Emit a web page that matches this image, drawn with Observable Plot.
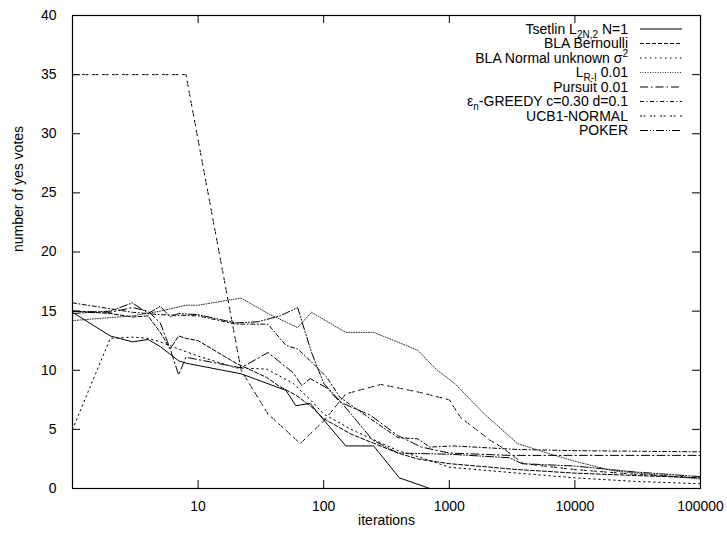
<!DOCTYPE html>
<html>
<head>
<meta charset="utf-8">
<script src="https://cdn.jsdelivr.net/npm/d3@7"></script>
<script src="https://cdn.jsdelivr.net/npm/@observablehq/plot@0.6"></script>
<style>
  body { margin: 0; background: #fff; }
  #chart svg { display: block; }
</style>
</head>
<body>
<div id="chart"></div>
<script>
// Axis ticks
const xTicks = [10, 100, 1000, 10000, 100000];
const yTicks = [0, 5, 10, 15, 20, 25, 30, 35, 40];

// Tsetlin L(2N,2), N=1
const tsetlinIter  = [1, 2, 3, 4, 5, 7, 8, 10, 22, 50, 60, 78, 100, 150, 250, 400, 700, 100000];
const tsetlinVotes = [14.9, 12.9, 12.4, 12.6, 12.0, 10.8, 10.6, 10.4, 9.7, 8.3, 7.0, 7.2, 5.8, 3.6, 3.6, 0.9, 0, 0];

// BLA Bernoulli
const blaBernIter  = [1, 2, 3, 4, 5, 6, 7, 8, 10, 20, 35, 45, 60, 80, 100, 165, 390, 560, 1000, 3500, 10000, 30000, 100000];
const blaBernVotes = [15.0, 14.8, 14.5, 14.6, 13.2, 11.8, 12.9, 12.7, 12.5, 10.6, 9.4, 8.6, 7.9, 6.9, 5.9, 4.6, 3.0, 2.5, 2.1, 1.6, 1.3, 1.1, 0.9];

// BLA Normal, unknown variance
const blaNormIter  = [1, 2, 3, 4, 5, 7, 10, 20, 35, 57, 80, 100, 165, 390, 560, 1000, 3500, 10000, 30000, 100000];
const blaNormVotes = [5.0, 12.7, 12.8, 12.7, 12.4, 11.8, 11.2, 10.2, 10.1, 8.9, 7.4, 6.3, 5.0, 3.2, 2.7, 1.8, 1.3, 0.9, 0.6, 0.4];

// L(R-I), 0.01
const lriIter  = [1, 3, 5, 8, 10, 22, 36, 62, 80, 150, 250, 560, 800, 1100, 1900, 3500, 6000, 10000, 20000, 100000];
const lriVotes = [14.2, 14.6, 15.0, 15.5, 15.5, 16.1, 14.8, 13.6, 14.9, 13.2, 13.2, 11.7, 10.0, 8.9, 6.3, 3.8, 3.0, 2.3, 1.5, 0.8];

// Pursuit, 0.01
const pursuitIter  = [1, 2, 3, 4, 5, 6, 7, 8, 10, 22, 36, 57, 67, 78, 106, 135, 235, 386, 600, 1000, 3000, 100000];
const pursuitVotes = [15.0, 14.9, 15.3, 15.0, 14.0, 11.8, 9.6, 11.1, 10.9, 10.2, 11.5, 9.8, 8.7, 9.3, 8.5, 7.3, 6.2, 4.5, 3.5, 3.0, 2.8, 2.8];

// eps_n-GREEDY, c=0.30, d=0.1
const greedyIter  = [1, 2, 3, 5, 10, 20, 36, 50, 62, 80, 106, 135, 235, 390, 560, 700, 1080, 3500, 10000, 100000];
const greedyVotes = [15.7, 15.2, 14.9, 14.7, 14.6, 13.9, 13.9, 12.1, 11.8, 10.7, 9.4, 7.7, 5.9, 4.3, 4.2, 3.5, 3.6, 3.3, 3.2, 3.1];

// UCB1-NORMAL
const ucbIter  = [1, 8, 22, 36, 58, 65, 100, 150, 285, 600, 1000, 1230, 2100, 2600, 3900, 10000, 30000, 100000];
const ucbVotes = [35, 35, 10.0, 6.3, 4.3, 3.8, 5.7, 8.0, 8.8, 8.1, 7.5, 6.0, 4.1, 3.5, 2.1, 1.6, 1.2, 0.9];

// POKER
const pokerIter  = [1, 2, 3, 4, 5, 6, 7, 10, 20, 30, 45, 62, 80, 100, 140, 245, 390, 1000, 3000, 3800, 10000, 30000, 100000];
const pokerVotes = [14.8, 15.0, 15.7, 14.8, 15.4, 14.5, 14.8, 14.7, 14.0, 14.1, 14.6, 15.3, 11.5, 8.9, 7.2, 4.1, 3.0, 2.9, 2.6, 2.1, 1.9, 1.4, 1.0];

// Series, in legend order, with their line styles
const series = [
  {iter: tsetlinIter, votes: tsetlinVotes, dash: null, stroke: "#000"},
  {iter: blaBernIter, votes: blaBernVotes, dash: "4,2", stroke: "#000"},
  {iter: blaNormIter, votes: blaNormVotes, dash: "1.5,3.5", stroke: "#000"},
  {iter: lriIter, votes: lriVotes, dash: "1,1.5", stroke: "#333"},
  {iter: pursuitIter, votes: pursuitVotes, dash: "8,3,1.5,3", stroke: "#000"},
  {iter: greedyIter, votes: greedyVotes, dash: "4,2.5,1,2.5", stroke: "#000"},
  {iter: ucbIter, votes: ucbVotes, dash: "2,1.5,2,4.5", stroke: "#000"},
  {iter: pokerIter, votes: pokerVotes, dash: "8,2,1,2,1,2", stroke: "#000"}
];

const lineMarks = series.map(s => {
  const pts = s.iter.map((x, i) => ({iter: x, votes: s.votes[i]}));
  return Plot.line(pts, {
    x: "iter", y: "votes",
    stroke: s.stroke, strokeWidth: 1,
    strokeDasharray: s.dash ?? undefined,
    strokeLinejoin: "miter"
  });
});

const fmt = d3.format("d");

const W = 727, H = 533;
const M = {left: 72, right: 27, top: 15, bottom: 45};
const innerW = W - M.left - M.right;
const innerH = H - M.top - M.bottom;
const TICK = 8;

const plot = Plot.plot({
  width: W,
  height: H,
  marginLeft: M.left,
  marginRight: M.right,
  marginTop: M.top,
  marginBottom: M.bottom,
  style: {fontFamily: "'Liberation Sans', Arial, Helvetica, sans-serif", fontSize: "14px", color: "#000", background: "#fff"},
  x: {type: "log", domain: [1, 100000]},
  y: {domain: [0, 40]},
  marks: [
    ...lineMarks,
    // tick marks pointing into the frame on all four sides
    Plot.ruleX(xTicks, {x: d => d, insetTop: innerH - TICK, stroke: "#000", strokeWidth: 1}),
    Plot.ruleX(xTicks, {x: d => d, insetBottom: innerH - TICK, stroke: "#000", strokeWidth: 1}),
    Plot.ruleY(yTicks, {y: d => d, insetRight: innerW - TICK, stroke: "#000", strokeWidth: 1}),
    Plot.ruleY(yTicks, {y: d => d, insetLeft: innerW - TICK, stroke: "#000", strokeWidth: 1}),
    // tick labels
    Plot.axisX({ticks: xTicks, anchor: "bottom", tickSize: 0, tickPadding: 13, tickFormat: fmt, label: null}),
    Plot.axisY({ticks: yTicks, anchor: "left", tickSize: 0, tickPadding: 16, tickFormat: fmt, label: null}),
    Plot.frame({stroke: "#000", strokeWidth: 1.2}),
    Plot.text(["iterations"], {frameAnchor: "bottom", dy: 36, fontSize: 14}),
    Plot.text(["number of yes votes"], {frameAnchor: "left", dx: -54, rotate: -90, fontSize: 14})
  ]
});

document.getElementById("chart").appendChild(plot);

// Legend, top right inside the frame
const svg = d3.select(plot);
const legend = svg.append("g")
  .attr("font-family", "'Liberation Sans', Arial, Helvetica, sans-serif")
  .attr("font-size", 14);

const labels = [
  t => { t.append("tspan").text("Tsetlin L"); t.append("tspan").attr("font-size", 10).attr("dy", 4).text("2N,2"); t.append("tspan").attr("dy", -4).text(" N=1"); },
  t => { t.append("tspan").text("BLA Bernoulli"); },
  t => { t.append("tspan").text("BLA Normal unknown σ"); t.append("tspan").attr("font-size", 10).attr("dy", -6).text("2"); },
  t => { t.append("tspan").text("L"); t.append("tspan").attr("font-size", 10).attr("dy", 4).text("R-I"); t.append("tspan").attr("dy", -4).text(" 0.01"); },
  t => { t.append("tspan").text("Pursuit 0.01"); },
  t => { t.append("tspan").text("ε"); t.append("tspan").attr("font-size", 10).attr("dy", 4).text("n"); t.append("tspan").attr("dy", -4).text("-GREEDY c=0.30 d=0.1"); },
  t => { t.append("tspan").text("UCB1-NORMAL"); },
  t => { t.append("tspan").text("POKER"); }
];

series.forEach((s, i) => {
  const y = 29 + i * 14.5;
  const t = legend.append("text")
    .attr("x", 628).attr("y", y).attr("dy", "0.35em")
    .attr("text-anchor", "end").attr("fill", "#000");
  labels[i](t);
  legend.append("line")
    .attr("x1", 640).attr("x2", 682).attr("y1", y).attr("y2", y)
    .attr("stroke", s.stroke).attr("stroke-width", 1)
    .attr("stroke-dasharray", s.dash);
});
</script>
</body>
</html>
